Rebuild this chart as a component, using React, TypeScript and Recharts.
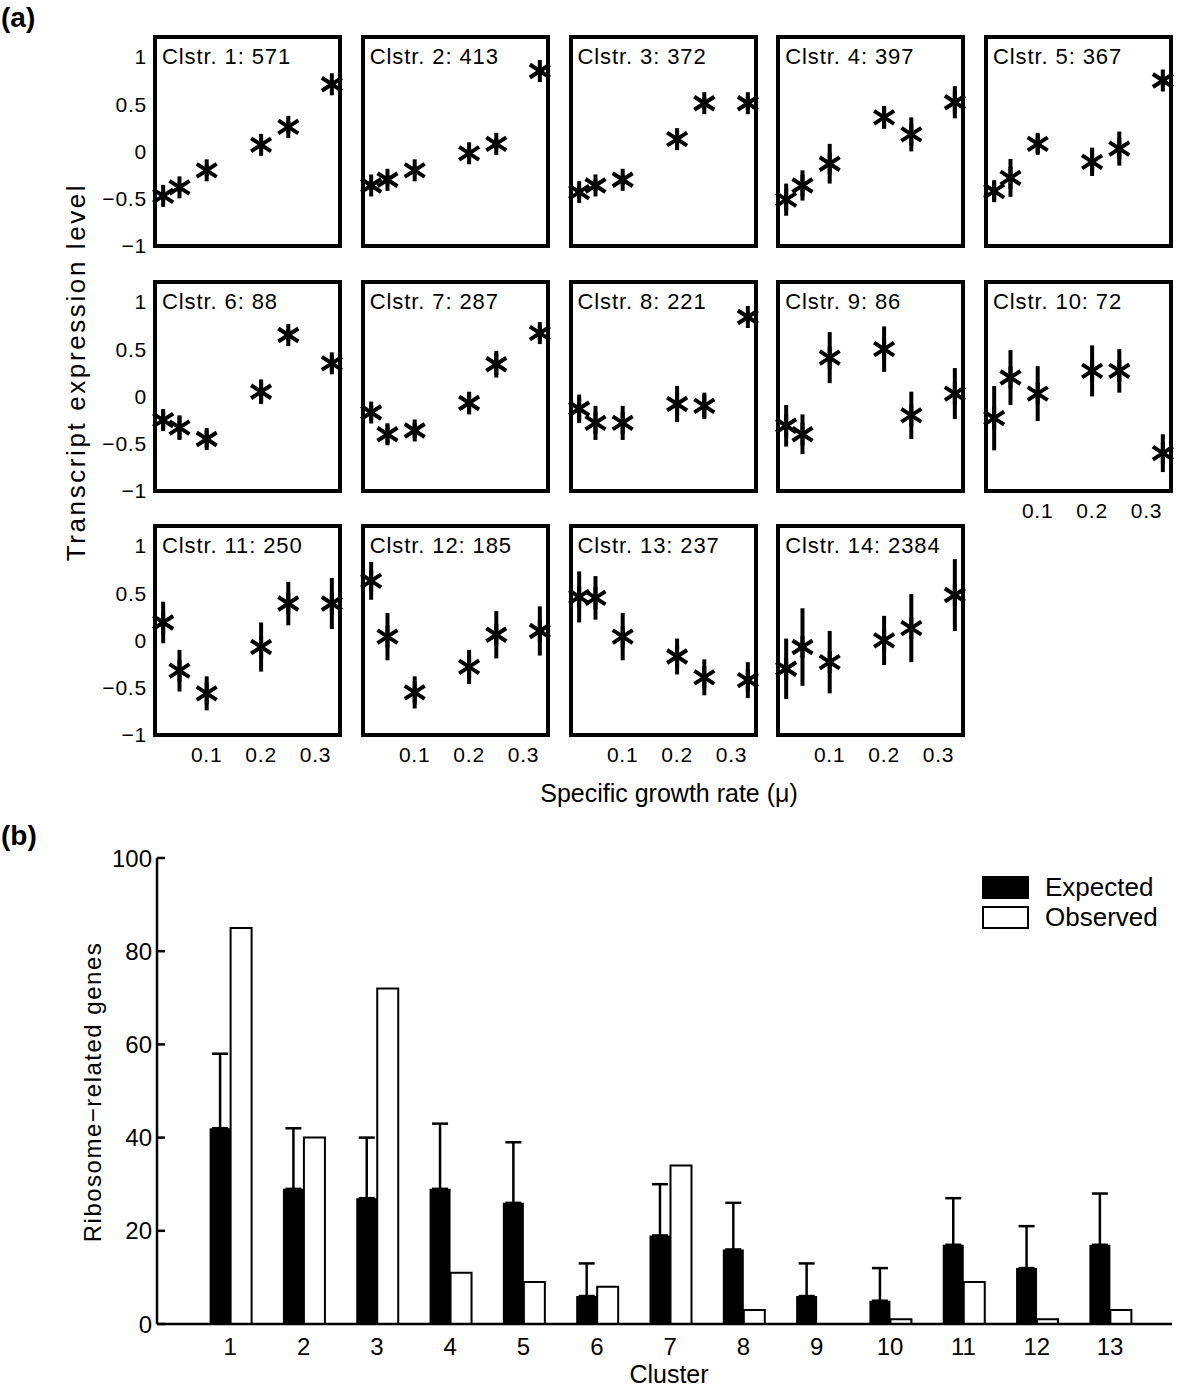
import React from 'react';
import {
  ScatterChart, Scatter, XAxis, YAxis, ErrorBar, ReferenceArea,
  BarChart, Bar, Legend
} from 'recharts';

const FONT = '"Liberation Sans", Arial, Helvetica, sans-serif';

// ---- panel (a) data ----
const growthRates = [0.02, 0.05, 0.1, 0.2, 0.25, 0.33];
const rateTicks = [0.1, 0.2, 0.3];
const levelTicks = [-1, -0.5, 0, 0.5, 1];
const clusterSizes = [571, 413, 372, 397, 367, 88, 287, 221, 86, 72, 250, 185, 237, 2384];

const clusterMeans = [
  [-0.47, -0.38, -0.2, 0.07, 0.26, 0.71],
  [-0.36, -0.3, -0.2, -0.02, 0.08, 0.85],
  [-0.43, -0.36, -0.3, 0.13, 0.51, 0.51],
  [-0.51, -0.36, -0.13, 0.36, 0.18, 0.52],
  [-0.42, -0.28, 0.08, -0.11, 0.03, 0.75],
  [-0.25, -0.33, -0.45, 0.05, 0.65, 0.35],
  [-0.17, -0.4, -0.36, -0.07, 0.34, 0.67],
  [-0.13, -0.28, -0.28, -0.08, -0.1, 0.84],
  [-0.31, -0.4, 0.41, 0.5, -0.2, 0.03],
  [-0.23, 0.2, 0.03, 0.27, 0.27, -0.6],
  [0.19, -0.32, -0.56, -0.07, 0.39, 0.39],
  [0.63, 0.04, -0.55, -0.28, 0.06, 0.1],
  [0.46, 0.45, 0.04, -0.17, -0.39, -0.42],
  [-0.3, -0.07, -0.23, 0.0, 0.13, 0.48],
];

const clusterErrors = [
  [0.05, 0.05, 0.06, 0.07, 0.06, 0.04],
  [0.05, 0.05, 0.05, 0.06, 0.06, 0.04],
  [0.06, 0.06, 0.05, 0.08, 0.06, 0.07],
  [0.17, 0.16, 0.21, 0.12, 0.18, 0.17],
  [0.1, 0.2, 0.1, 0.15, 0.18, 0.05],
  [0.1, 0.13, 0.09, 0.13, 0.06, 0.08],
  [0.08, 0.1, 0.08, 0.12, 0.14, 0.08],
  [0.15, 0.18, 0.18, 0.19, 0.14, 0.05],
  [0.22, 0.21, 0.27, 0.24, 0.25, 0.27],
  [0.34, 0.29, 0.29, 0.27, 0.23, 0.2],
  [0.22, 0.22, 0.18, 0.26, 0.23, 0.27],
  [0.2, 0.25, 0.17, 0.18, 0.25, 0.26],
  [0.27, 0.23, 0.25, 0.19, 0.19, 0.19],
  [0.32, 0.41, 0.33, 0.26, 0.36, 0.38],
];

// ---- panel (b) data ----
const clusterLabels = ['1', '2', '3', '4', '5', '6', '7', '8', '9', '10', '11', '12', '13'];
const expected = [42, 29, 27, 29, 26, 6, 19, 16, 6, 5, 17, 12, 17];
const expectedUpper = [58, 42, 40, 43, 39, 13, 30, 26, 13, 12, 27, 21, 28];
const observed = [85, 40, 72, 11, 9, 8, 34, 3, 0, 1, 9, 1, 3];
const countTicks = [0, 20, 40, 60, 80, 100];

const barData = clusterLabels.map((c, i) => ({
  cluster: c,
  expected: expected[i],
  observed: observed[i],
  expErr: [0, expectedUpper[i] - expected[i]],
}));

// geometry of the small panels
const BOX_W = 185;
const BOX_H = 209;
const YW = 60;
const XH = 40;
const colLeft = (c: number) => 155 + c * 207.75;
const rowTops = [37, 282, 526];

const fmtLevel = (v: number) => (v < 0 ? '\u2212' + Math.abs(v) : String(v));

const Asterisk = (props: any) => {
  const { cx, cy } = props;
  if (cx == null || cy == null) return null;
  return (
    <g stroke="#000" strokeWidth={4}>
      <line x1={cx} y1={cy - 11} x2={cx} y2={cy + 11} />
      <line x1={cx - 10} y1={cy - 6.5} x2={cx + 10} y2={cy + 6.5} />
      <line x1={cx - 10} y1={cy + 6.5} x2={cx + 10} y2={cy - 6.5} />
    </g>
  );
};

const ClusterPanel = ({ idx }: { idx: number }) => {
  const row = Math.floor(idx / 5);
  const col = idx % 5;
  const left = colLeft(col);
  const top = rowTops[row];
  const showY = col === 0;
  const showX = row === 2 || idx === 9;
  const data = growthRates.map((x, j) => ({ x, y: clusterMeans[idx][j], err: clusterErrors[idx][j] }));
  const tickStyle = { fill: '#000', fontSize: 21, fontFamily: FONT, letterSpacing: 0.8 };

  return (
    <>
      <div style={{ position: 'absolute', left: left - YW, top: top - 4 }}>
        <ScatterChart width={YW + BOX_W + 4} height={4 + BOX_H + XH} margin={{ top: 4, right: 4, bottom: 0, left: 0 }}>
          <XAxis
            type="number"
            dataKey="x"
            domain={[0.005, 0.345]}
            ticks={rateTicks}
            height={XH}
            axisLine={false}
            tickLine={false}
            tickSize={6}
            tickMargin={6}
            tick={showX ? tickStyle : false}
          />
          <YAxis
            type="number"
            dataKey="y"
            domain={[-1, 1.21]}
            ticks={levelTicks}
            width={YW}
            axisLine={false}
            tickLine={false}
            tickSize={6}
            tickMargin={2}
            tickFormatter={fmtLevel}
            tick={showY ? tickStyle : false}
          />
          <ReferenceArea x1={0.005} x2={0.345} y1={-1} y2={1.21} fill="none" stroke="#000" strokeWidth={4} />
          <Scatter data={data} shape={Asterisk} isAnimationActive={false}>
            <ErrorBar dataKey="err" direction="y" width={0} stroke="#000" strokeWidth={4} isAnimationActive={false} />
          </Scatter>
        </ScatterChart>
      </div>
      <div
        style={{
          position: 'absolute', left: left + 7, top: top + 9, fontSize: 22, lineHeight: '22px',
          letterSpacing: 0.9, whiteSpace: 'nowrap', color: '#000',
        }}
      >
        {`Clstr. ${idx + 1}: ${clusterSizes[idx]}`}
      </div>
    </>
  );
};

const renderLegend = (props: any) => {
  const payload = props.payload || [];
  return (
    <div style={{ fontFamily: FONT, fontSize: 26, color: '#000' }}>
      {payload.map((entry: any, i: number) => (
        <div key={entry.value} style={{ display: 'flex', alignItems: 'center', height: 30 }}>
          <span
            style={{
              display: 'inline-block', width: 47, height: 23, boxSizing: 'border-box',
              background: i === 0 ? '#000' : '#fff', border: '2.5px solid #000', marginRight: 16,
            }}
          />
          <span>{entry.value}</span>
        </div>
      ))}
    </div>
  );
};

const rotated = (cx: number, cy: number, size: number, spacing: number): React.CSSProperties => ({
  position: 'absolute', left: cx, top: cy, fontSize: size, letterSpacing: spacing,
  whiteSpace: 'nowrap', transform: 'translate(-50%, -50%) rotate(-90deg)', color: '#000',
});

export default function App() {
  const axisTick = { fill: '#000', fontSize: 24, fontFamily: FONT };
  return (
    <div style={{ position: 'absolute', left: 0, top: 0, width: 1200, height: 1388, background: '#fff', fontFamily: FONT, overflow: 'hidden' }}>
      <div style={{ position: 'absolute', left: 1, top: 2, fontSize: 28, fontWeight: 'bold' }}>(a)</div>
      <div style={{ position: 'absolute', left: 1, top: 820, fontSize: 28, fontWeight: 'bold' }}>(b)</div>

      {clusterSizes.map((_, i) => (
        <ClusterPanel key={i} idx={i} />
      ))}

      <div style={rotated(76, 372, 26, 2.6)}>Transcript expression level</div>
      <div style={{ position: 'absolute', left: 669, top: 779, transform: 'translateX(-50%)', fontSize: 25, whiteSpace: 'nowrap' }}>
        Specific growth rate (μ)
      </div>

      <div style={{ position: 'absolute', left: 0, top: 830 }}>
        <BarChart
          width={1200}
          height={558}
          data={barData}
          margin={{ top: 28, right: 28, bottom: 0, left: 97 }}
          barGap={0}
          barSize={21}
        >
          <XAxis
            dataKey="cluster"
            padding={{ left: 36.6, right: 25.3 }}
            interval={0}
            height={64}
            tickLine={false}
            tickSize={6}
            tickMargin={8}
            axisLine={{ stroke: '#000', strokeWidth: 2.5 }}
            tick={axisTick}
          />
          <YAxis
            domain={[0, 100]}
            ticks={countTicks}
            width={60}
            tickSize={-8}
            tickMargin={13}
            tickLine={{ stroke: '#000', strokeWidth: 2.5 }}
            axisLine={{ stroke: '#000', strokeWidth: 2.5 }}
            tick={axisTick}
          />
          <Legend
            layout="vertical"
            align="center"
            verticalAlign="middle"
            content={renderLegend}
            wrapperStyle={{ position: 'absolute', left: 982, top: 42, width: 200, height: 62 }}
          />
          <Bar dataKey="expected" name="Expected" fill="#000" isAnimationActive={false}>
            <ErrorBar dataKey="expErr" direction="y" width={8} stroke="#000" strokeWidth={2.5} isAnimationActive={false} />
          </Bar>
          <Bar dataKey="observed" name="Observed" fill="#fff" stroke="#000" strokeWidth={2} isAnimationActive={false} />
        </BarChart>
      </div>

      <div style={rotated(93, 1092, 24, 1.5)}>Ribosome{'\u2212'}related genes</div>
      <div style={{ position: 'absolute', left: 669, top: 1360, transform: 'translateX(-50%)', fontSize: 25 }}>Cluster</div>
    </div>
  );
}
